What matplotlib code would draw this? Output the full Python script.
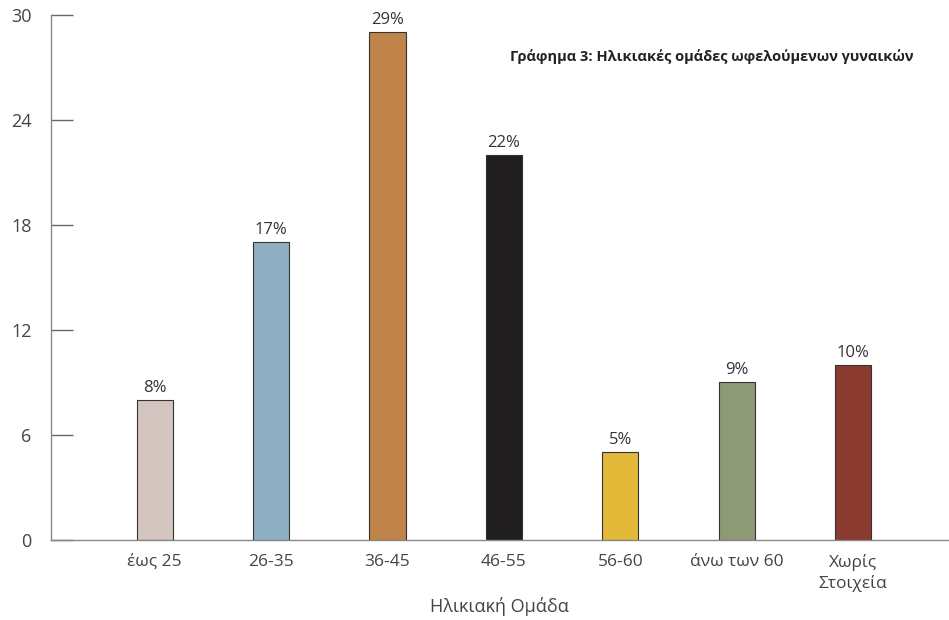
import matplotlib.pyplot as plt

plt.rcParams['font.family'] = ['Open Sans', 'DejaVu Sans']

categories = ['έως 25', '26-35', '36-45', '46-55', '56-60', 'άνω των 60', 'Χωρίς\nΣτοιχεία']
values = [8, 17, 29, 22, 5, 9, 10]
labels = ['8%', '17%', '29%', '22%', '5%', '9%', '10%']
colors = ['#D4C5C0', '#8FB0C3', '#C0844A', '#1F1D1D', '#E3B93A', '#8C9A75', '#8B3A2F']

fig = plt.figure(figsize=(9.49, 6.2), dpi=100)
ax = fig.add_axes([0.0537, 0.129, 0.946, 0.847])

x = range(len(categories))
bars = ax.bar(x, values, width=0.31, color=colors, edgecolor='#333333', linewidth=0.8)
for b, lab in zip(bars, labels):
    ax.text(b.get_x() + b.get_width() / 2, b.get_height() + 0.25, lab,
            ha='center', va='bottom', fontsize=12, color='#333333')

ax.set_xlim(-0.89, 6.82)
ax.set_ylim(0, 30)
ax.set_yticks([0, 6, 12, 18, 24, 30])
ax.set_xticks(list(x))
ax.set_xticklabels(categories, fontsize=12.5, color='#444444', va='top', linespacing=1.3)
ax.tick_params(axis='x', length=0, pad=10)
ax.tick_params(axis='y', direction='in', length=16, width=1, color='#666666',
               labelsize=13, labelcolor='#444444', pad=14)

for s in ['top', 'right']:
    ax.spines[s].set_visible(False)
for s in ['left', 'bottom']:
    ax.spines[s].set_color('#888888')
    ax.spines[s].set_linewidth(1)

ax.set_xlabel('Ηλικιακή Ομάδα', fontsize=13, color='#444444', labelpad=4)
ax.text(0.736, 0.92, 'Γράφημα 3: Ηλικιακές ομάδες ωφελούμενων γυναικών',
        transform=ax.transAxes, ha='center', va='center', fontsize=10.5,
        fontweight='bold', color='#222222')

fig.savefig('out.png', dpi=100)
